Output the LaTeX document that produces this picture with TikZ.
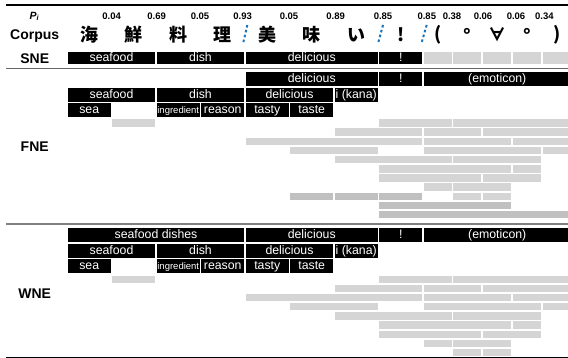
\documentclass[tikz,border=0pt]{standalone}
\usepackage{fontspec}
\setmainfont{Liberation Sans}
\setsansfont{Liberation Sans}
\newfontfamily\cjkfont{Noto Sans CJK JP}
\usetikzlibrary{positioning}
\definecolor{lightbar}{HTML}{D5D5D5}
\definecolor{darkbar}{HTML}{C0C0C0}
\definecolor{segblue}{HTML}{1A75BC}
% column boundaries, one per character
\def\bx{{67,111.5,156,200.5,245,289.5,334,378.5,423,452.5,482,512,542,571.5}}
\tikzset{
    cellb/.style = {rectangle, fill=black, text=white, inner sep=0pt, minimum height=14pt, text height=8.8pt, text depth=2.6pt, font=\fontsize{12.3}{13}\selectfont},
    cellbs/.style = {cellb, minimum height=11.7pt}, % SNE row
    cellsm/.style = {cellb, font=\fontsize{9.5}{10}\selectfont},
    cellg/.style = {rectangle, fill=lightbar, inner sep=0pt, minimum height=7.4pt},
    cellgd/.style = {cellg, fill=darkbar},
    rowlabel/.style = {inner sep=0pt, font=\fontsize{14}{16}\selectfont\bfseries},
    prob/.style = {inner sep=0pt, font=\fontsize{9.5}{10}\selectfont\bfseries},
    glyph/.style = {inner sep=0pt, font=\cjkfont\fontsize{18}{20}\selectfont\bfseries},
    cut/.style = {draw=segblue, line width=2pt, dash pattern=on 2.6pt off 2.4pt},
    rulethick/.style = {line width=1.4pt},
}
\newcommand{\putcell}[6]{%
  \pgfmathtruncatemacro\cellia{#4}%
  \pgfmathtruncatemacro\cellib{#5}%
  \pgfmathsetmacro\cellxa{\bx[\cellia]}%
  \pgfmathsetmacro\cellxb{\bx[\cellib]}%
  \pgfmathsetmacro\cellxm{(\cellxa+\cellxb)/2}%
  \pgfmathsetmacro\cellw{\cellxb-\cellxa-1.5}%
  \pgfmathsetmacro\celly{#3}%
  \node[#1, minimum width=\cellw pt] at (\cellxm, \celly) (#2) {#6};}

\begin{document}
\begin{tikzpicture}[x=1pt, y=-1pt]
\useasboundingbox (0,0) rectangle (568,358);

% rules
\coordinate (topl) at (6,5);       \coordinate (topr) at (568,5);
\coordinate (snel) at (6,68.5);    \coordinate (sner) at (568,68.5);
\coordinate (fnel) at (6,223.8);   \coordinate (fner) at (568,223.8);
\coordinate (botl) at (6,357.3);   \coordinate (botr) at (568,357.3);
\draw[rulethick] (topl) -- (topr);
\draw[line width=1.2pt, black!60] (snel) -- (sner);
\draw[line width=2.2pt, black!50] (fnel) -- (fner);
\draw[rulethick] (botl) -- (botr);

% header
\node[rowlabel, font=\fontsize{10.5}{12}\selectfont\bfseries\itshape] at (34.5,16.5) (pi) {P\textsubscript{i}};
\node[rowlabel] at (34.7,36) (corpus) {Corpus};
\foreach \i/\c in {0/海,1/鮮,2/料,3/理,4/美,5/味,6/い,7/!,8/{(},9/°,10/∀,11/°,12/{)}}{
  \pgfmathtruncatemacro\j{\i+1}
  \pgfmathsetmacro\cxa{\bx[\i]}
  \pgfmathsetmacro\cxb{\bx[\j]}
  \pgfmathsetmacro\cx{(\cxa+\cxb)/2}
  \node[glyph] at (\cx,35) (ch\i) {\c};
}
\foreach \x/\p [count=\k] in {111.7/0.04,156.7/0.69,200/0.05,242.7/0.93,289/0.05,335.7/0.89,383/0.85,426.8/0.85,452/0.38,483/0.06,516/0.06,544.4/0.34}
  \node[prob] at (\x,16) (p\k) {\p};
\foreach \xu/\xd [count=\k] in {247.3/243.3,383/378.3,426.7/421.7}{
  \coordinate (cuttop\k) at (\xu,25);
  \coordinate (cutbot\k) at (\xd,42.5);
  \draw[cut] (cuttop\k) -- (cutbot\k);
}

% SNE
\node[rowlabel] at (34.7,58.2) (sne) {SNE};
\putcell{cellbs}{sne1}{58.2}{0}{2}{seafood}
\putcell{cellbs}{sne2}{58.2}{2}{4}{dish}
\putcell{cellbs}{sne3}{58.2}{4}{7}{delicious}
\putcell{cellbs}{sne4}{58.2}{7}{8}{!}
\foreach \a in {8,...,12}{
  \putcell{cellg, minimum height=11.7pt}{sneg\a}{58.2}{\a}{\a+1}{}
}

% FNE
\node[rowlabel] at (34.7,146.5) (fne) {FNE};
\putcell{cellb}{fA1}{79.5}{4}{7}{delicious}
\putcell{cellb}{fA2}{79.5}{7}{8}{!}
\putcell{cellb}{fA3}{79.5}{8}{13}{(emoticon)}
\putcell{cellb}{fB1}{95}{0}{2}{seafood}
\putcell{cellb}{fB2}{95}{2}{4}{dish}
\putcell{cellb}{fB3}{95}{4}{6}{delicious}
\putcell{cellb}{fB4}{95}{6}{7}{i (kana)}
\putcell{cellb}{fC1}{110.5}{0}{1}{sea}
\putcell{cellsm}{fC2}{110.5}{2}{3}{ingredient}
\putcell{cellb}{fC3}{110.5}{3}{4}{reason}
\putcell{cellb}{fC4}{110.5}{4}{5}{tasty}
\putcell{cellb}{fC5}{110.5}{5}{6}{taste}
\foreach \r/\a/\b in {0/1/2,0/7/9,0/9/13,1/6/8,1/8/10,1/10/13,2/4/8,2/8/11,2/11/13,
    3/5/7,3/8/12,3/12/13,4/6/9,4/9/12,5/7/11,5/11/12,6/7/10,6/10/12,7/8/9,7/9/11,8/9/10,8/10/11}{
  \putcell{cellg}{fg\r-\a}{123+9.17*\r}{\a}{\b}{}
}
\foreach \r/\a/\b in {8/5/6,8/6/7,8/7/8,9/7/11,10/7/13}{
  \putcell{cellgd}{fd\r-\a}{123+9.17*\r}{\a}{\b}{}
}

% WNE
\node[rowlabel] at (34.7,293.7) (wne) {WNE};
\putcell{cellb}{wA1}{235.5}{0}{4}{seafood dishes}
\putcell{cellb}{wA2}{235.5}{4}{7}{delicious}
\putcell{cellb}{wA3}{235.5}{7}{8}{!}
\putcell{cellb}{wA4}{235.5}{8}{13}{(emoticon)}
\putcell{cellb}{wB1}{251}{0}{2}{seafood}
\putcell{cellb}{wB2}{251}{2}{4}{dish}
\putcell{cellb}{wB3}{251}{4}{6}{delicious}
\putcell{cellb}{wB4}{251}{6}{7}{i (kana)}
\putcell{cellb}{wC1}{266.3}{0}{1}{sea}
\putcell{cellsm}{wC2}{266.3}{2}{3}{ingredient}
\putcell{cellb}{wC3}{266.3}{3}{4}{reason}
\putcell{cellb}{wC4}{266.3}{4}{5}{tasty}
\putcell{cellb}{wC5}{266.3}{5}{6}{taste}
\foreach \r/\a/\b in {0/1/2,0/7/9,0/9/13,1/6/8,1/8/10,1/10/13,2/4/8,2/8/11,2/11/13,
    3/5/7,3/8/12,3/12/13,4/6/9,4/9/12,5/7/11,5/11/12,6/7/10,6/10/12,7/8/9,7/9/11,8/9/10,8/10/11}{
  \putcell{cellg}{wg\r-\a}{279.3+9.16*\r}{\a}{\b}{}
}
\end{tikzpicture}
\end{document}
